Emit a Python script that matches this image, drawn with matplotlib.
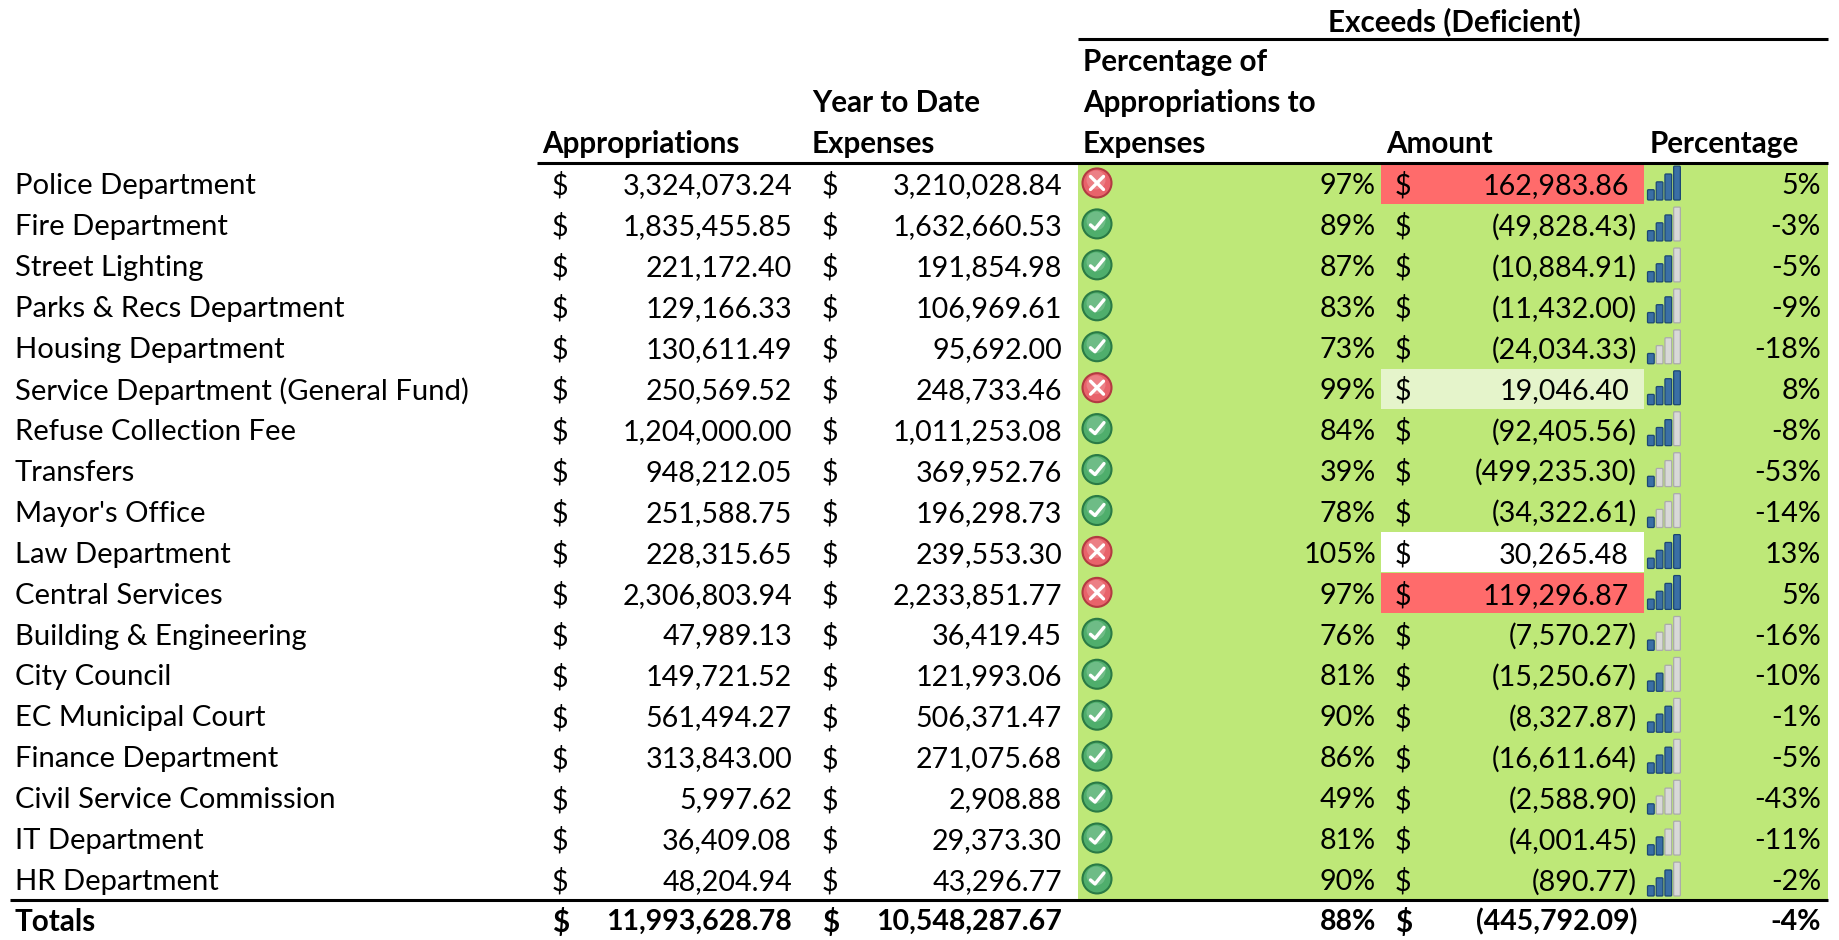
import matplotlib
matplotlib.use("Agg")
import matplotlib.pyplot as plt
from matplotlib.patches import Rectangle, Circle, FancyBboxPatch

plt.rcParams['font.family'] = ['Lato', 'DejaVu Sans']

departments = ["Police Department", "Fire Department", "Street Lighting", "Parks & Recs Department",
               "Housing Department", "Service Department (General Fund)", "Refuse Collection Fee",
               "Transfers", "Mayor's Office", "Law Department", "Central Services",
               "Building & Engineering", "City Council", "EC Municipal Court", "Finance Department",
               "Civil Service Commission", "IT Department", "HR Department"]
appropriations = ["3,324,073.24", "1,835,455.85", "221,172.40", "129,166.33", "130,611.49", "250,569.52",
                  "1,204,000.00", "948,212.05", "251,588.75", "228,315.65", "2,306,803.94", "47,989.13",
                  "149,721.52", "561,494.27", "313,843.00", "5,997.62", "36,409.08", "48,204.94"]
expenses = ["3,210,028.84", "1,632,660.53", "191,854.98", "106,969.61", "95,692.00", "248,733.46",
            "1,011,253.08", "369,952.76", "196,298.73", "239,553.30", "2,233,851.77", "36,419.45",
            "121,993.06", "506,371.47", "271,075.68", "2,908.88", "29,373.30", "43,296.77"]
pct_of_appr = ["97%", "89%", "87%", "83%", "73%", "99%", "84%", "39%", "78%", "105%", "97%", "76%",
               "81%", "90%", "86%", "49%", "81%", "90%"]
amounts = ["162,983.86", "(49,828.43)", "(10,884.91)", "(11,432.00)", "(24,034.33)", "19,046.40",
           "(92,405.56)", "(499,235.30)", "(34,322.61)", "30,265.48", "119,296.87", "(7,570.27)",
           "(15,250.67)", "(8,327.87)", "(16,611.64)", "(2,588.90)", "(4,001.45)", "(890.77)"]
pct_diff = ["5%", "-3%", "-5%", "-9%", "-18%", "8%", "-8%", "-53%", "-14%", "13%", "5%", "-16%",
            "-10%", "-1%", "-5%", "-43%", "-11%", "-2%"]
over_budget = [1, 0, 0, 0, 0, 1, 0, 0, 0, 1, 1, 0, 0, 0, 0, 0, 0, 0]
signal_bars = [4, 3, 3, 3, 1, 4, 3, 1, 1, 4, 4, 1, 2, 3, 3, 1, 2, 3]
amount_fill = ["#FF6B6B", None, None, None, None, "#E5F4CB", None, None, None, "#FFFFFF", "#FF6B6B",
               None, None, None, None, None, None, None]
totals = ["Totals", "11,993,628.78", "10,548,287.67", "88%", "(445,792.09)", "-4%"]

GREEN = "#BEE878"
FS = 20.6
FS_LABEL = 21.1
FS_BOLD = 21.3
FS_TOTAL = 20.5
TOP, ROW = 164.0, 40.94

fig = plt.figure(figsize=(18.39, 9.40), dpi=100)
ax = fig.add_axes([0, 0, 1, 1])
ax.set_xlim(0, 1839)
ax.set_ylim(940, 0)
ax.axis("off")


def t(x, y, s, ha="left", bold=False, fs=None):
    size = fs if fs else (FS_BOLD if bold else FS)
    ax.text(x, y - 0.8, s, ha=ha, va="center_baseline", fontsize=size, color="#000000",
            fontweight="bold" if bold else "normal", zorder=5)


def num_right(par_right, s):
    # Accounting format: closing parenthesis hangs past the digits' right edge
    return par_right if s.endswith(")") else par_right - 8


# green block
ax.add_patch(Rectangle((1078, TOP - 1), 750, ROW * 18, fc=GREEN, ec="none", zorder=1))

for i, name in enumerate(departments):
    top = TOP + ROW * i
    y = top + ROW / 2
    if amount_fill[i]:
        ax.add_patch(Rectangle((1381, top), 263, ROW - 1, fc=amount_fill[i], ec="none", zorder=2))
    t(15, y, name, fs=FS_LABEL)
    t(552, y, "$")
    t(792, y, appropriations[i], "right")
    t(822, y, "$")
    t(1062, y, expenses[i], "right")
    t(1376, y, pct_of_appr[i], "right")
    t(1395, y, "$")
    t(num_right(1637, amounts[i]), y, amounts[i], "right")
    t(1821, y, pct_diff[i], "right")

    # status icon
    cx, cy = 1097, y - 1.5
    base, edge = ("#E8636B", "#B23A42") if over_budget[i] else ("#4FAE6C", "#2A7A45")
    ax.add_patch(Circle((cx, cy), 14.5, fc=base, ec=edge, lw=1.5, zorder=3))
    ax.add_patch(Circle((cx - 1, cy - 3), 9.5, fc="#FFFFFF", ec="none", alpha=0.18, zorder=3))
    if over_budget[i]:
        ax.plot([cx - 6.5, cx + 6.5], [cy - 6.5, cy + 6.5], color="white", lw=2.4, zorder=4, solid_capstyle="round")
        ax.plot([cx - 6.5, cx + 6.5], [cy + 6.5, cy - 6.5], color="white", lw=2.4, zorder=4, solid_capstyle="round")
    else:
        ax.plot([cx - 6.5, cx - 2, cx + 7], [cy + 1, cy + 5, cy - 6], color="white", lw=2.4, zorder=4,
                solid_capstyle="round", solid_joinstyle="round")

    # signal bars icon
    bottom = top + 36.5
    for k in range(4):
        x0 = 1647.2 + k * 8.72
        h = 11.3 + k * 7.85
        on = k < signal_bars[i]
        ax.add_patch(FancyBboxPatch((x0 + 0.8, bottom - h + 1.0), 5.7, h - 2.0,
                                    boxstyle="round,pad=0.5,rounding_size=1.0",
                                    fc="#3A6FA5" if on else "#D8D8D8",
                                    ec="#1B4674" if on else "#ABABAB", lw=0.9, zorder=3))

# headers
t(1454, 20, "Exceeds (Deficient)", "center", True)
t(1083, 60, "Percentage of", bold=True)
t(1083, 101, "Appropriations to", bold=True)
t(812, 101, "Year to Date", bold=True)
t(542, 142, "Appropriations", bold=True)
t(812, 142, "Expenses", bold=True)
t(1083, 142, "Expenses", bold=True)
t(1386, 142, "Amount", bold=True)
t(1650, 142, "Percentage", bold=True)

# totals
yt = 920.5
t(15, yt, totals[0], bold=True)
t(552, yt, "$", bold=True)
t(792, yt, totals[1], "right", True, FS_TOTAL)
t(822, yt, "$", bold=True)
t(1062, yt, totals[2], "right", True, FS_TOTAL)
t(1376, yt, totals[3], "right", True, FS_TOTAL)
t(1395, yt, "$", bold=True)
t(1637, yt, totals[4], "right", True, FS_TOTAL)
t(1821, yt, totals[5], "right", True, FS_TOTAL)

# rules
for x0, y in [(1078, 39), (537, 163), (10, 899.5)]:
    ax.plot([x0, 1828], [y, y], color="black", lw=2.2, zorder=6, solid_capstyle="butt")

fig.savefig("out.png", dpi=100, facecolor="white")
